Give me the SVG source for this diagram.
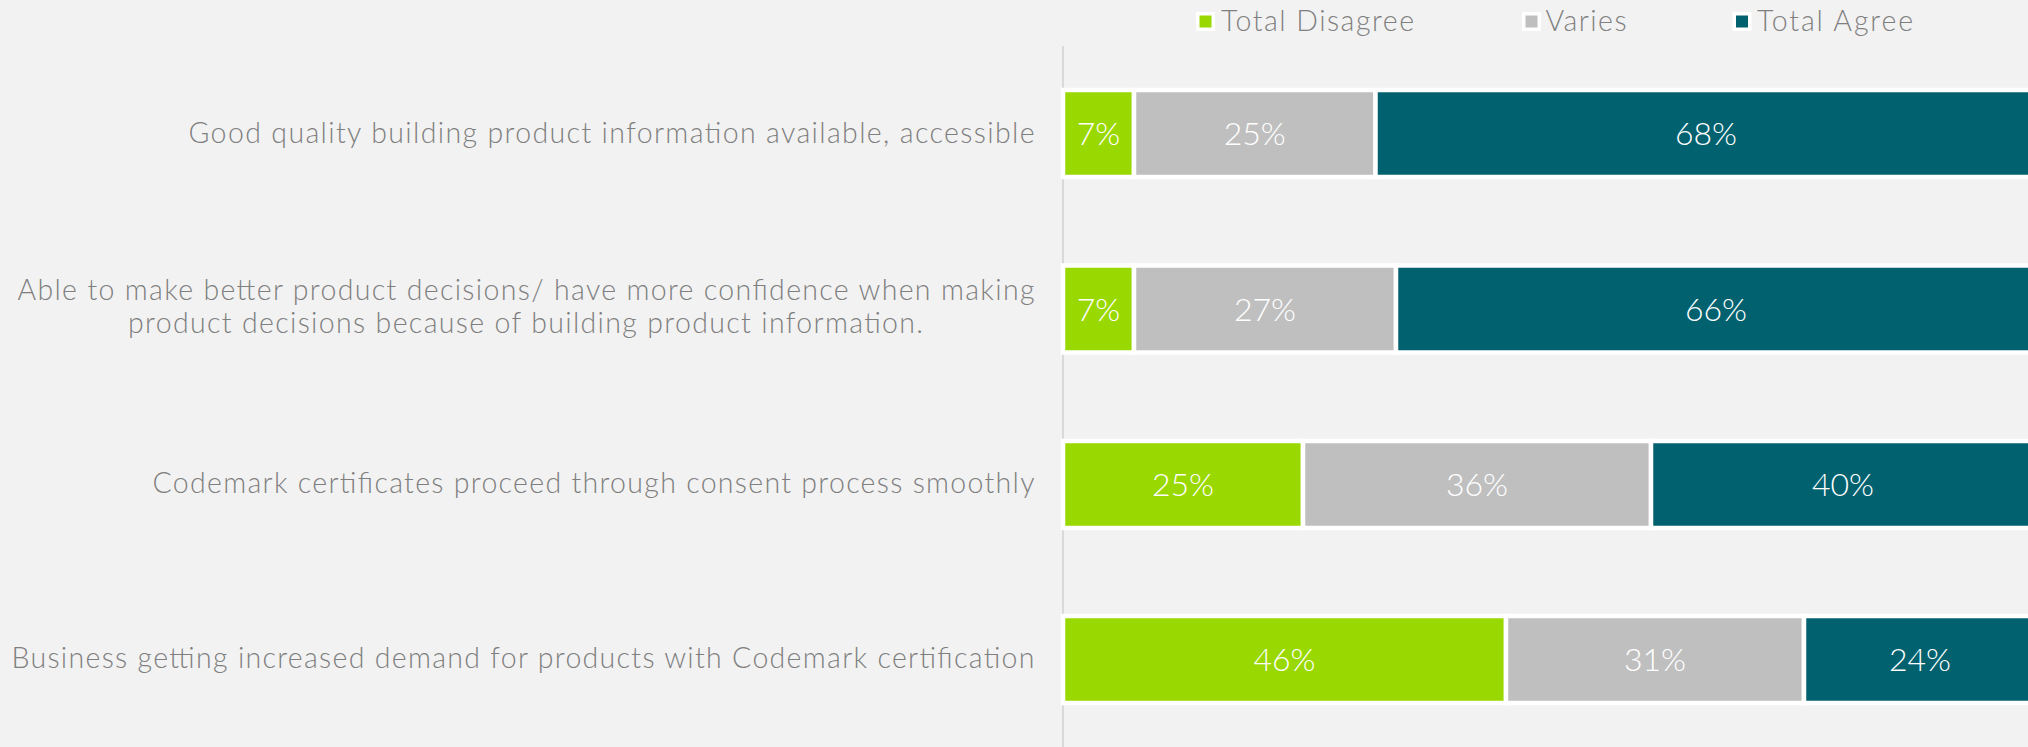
<svg xmlns="http://www.w3.org/2000/svg" width="2028" height="747" viewBox="0 0 2028 747">
<style>
.cat{font-family:Lato,"Open Sans","Liberation Sans",sans-serif;font-weight:300;font-size:28.5px;fill:#7f7f7f}
.leg{font-family:Lato,"Open Sans","Liberation Sans",sans-serif;font-weight:300;font-size:28.5px;fill:#7f7f7f}
.val{font-family:Lato,"Open Sans","Liberation Sans",sans-serif;font-weight:300;font-size:32px;fill:#ffffff;text-anchor:middle}
.seg{stroke:#ffffff;stroke-width:4.5}
.g{fill:#99d800}
.v{fill:#bfbfbf}
.t{fill:#02616f}
</style>
<rect x="0" y="0" width="2028" height="747" fill="#f2f2f2"/>
<g id="legend">
  <rect x="1196" y="12" width="19" height="19" fill="#ffffff"/>
  <rect x="1199.5" y="15.5" width="12" height="12" class="g"/>
  <text class="leg" x="1221" y="31" textLength="193" lengthAdjust="spacing">Total Disagree</text>
  <rect x="1522" y="12" width="19" height="19" fill="#ffffff"/>
  <rect x="1525.5" y="15.5" width="12" height="12" class="v"/>
  <text class="leg" x="1545.5" y="31" textLength="81" lengthAdjust="spacing">Varies</text>
  <rect x="1732.5" y="12" width="19" height="19" fill="#ffffff"/>
  <rect x="1736" y="15.5" width="12" height="12" class="t"/>
  <text class="leg" x="1757" y="31" textLength="156" lengthAdjust="spacing">Total Agree</text>
</g>
<g id="axis">
  <line x1="1063" y1="46" x2="1063" y2="747" stroke="#d9d9d9" stroke-width="2"/>
</g>
<g id="row1">
  <text class="cat" x="1034.5" y="143" text-anchor="end" textLength="846" lengthAdjust="spacing">Good quality building product information available, accessible</text>
  <rect class="seg g" x="1063" y="90" width="71" height="87"/>
  <rect class="seg v" x="1134" y="90" width="241.5" height="87"/>
  <rect class="seg t" x="1375.5" y="90" width="660" height="87"/>
  <text class="val" x="1098.5" y="145">7%</text>
  <text class="val" x="1254.75" y="145">25%</text>
  <text class="val" x="1706" y="145">68%</text>
</g>
<g id="row2">
  <text class="cat" x="1034.5" y="300" text-anchor="end" textLength="1017" lengthAdjust="spacing">Able to make better product decisions/ have more confidence when making</text>
  <text class="cat" x="525.5" y="333" text-anchor="middle" textLength="795" lengthAdjust="spacing">product decisions because of building product information.</text>
  <rect class="seg g" x="1063" y="265.5" width="71" height="87"/>
  <rect class="seg v" x="1134" y="265.5" width="262" height="87"/>
  <rect class="seg t" x="1396" y="265.5" width="640" height="87"/>
  <text class="val" x="1098.5" y="321">7%</text>
  <text class="val" x="1265" y="321">27%</text>
  <text class="val" x="1716" y="321">66%</text>
</g>
<g id="row3">
  <text class="cat" x="1034.5" y="493" text-anchor="end" textLength="882" lengthAdjust="spacing">Codemark certificates proceed through consent process smoothly</text>
  <rect class="seg g" x="1063" y="441" width="240" height="87"/>
  <rect class="seg v" x="1303" y="441" width="348" height="87"/>
  <rect class="seg t" x="1651" y="441" width="385" height="87"/>
  <text class="val" x="1183" y="496">25%</text>
  <text class="val" x="1477" y="496">36%</text>
  <text class="val" x="1843" y="496">40%</text>
</g>
<g id="row4">
  <text class="cat" x="1034.5" y="668" text-anchor="end" textLength="1023" lengthAdjust="spacing">Business getting increased demand for products with Codemark certification</text>
  <rect class="seg g" x="1063" y="616" width="443" height="87"/>
  <rect class="seg v" x="1506" y="616" width="298" height="87"/>
  <rect class="seg t" x="1804" y="616" width="232" height="87"/>
  <text class="val" x="1284.5" y="671">46%</text>
  <text class="val" x="1655" y="671">31%</text>
  <text class="val" x="1920" y="671">24%</text>
</g>
</svg>
